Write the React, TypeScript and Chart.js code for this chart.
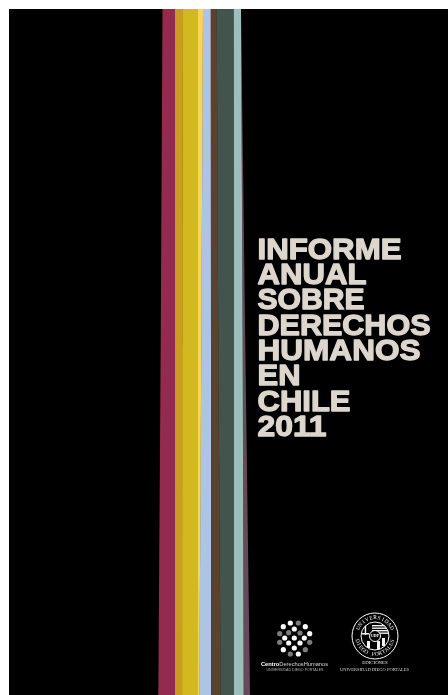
import React, { useEffect, useRef } from "react";
import { Chart, registerables } from "chart.js";

Chart.register(...registerables);

const levels = [9, 345, 695];
const edgesAtTop = [162.5, 175, 183, 198, 203, 210.7, 216.7, 233.7, 241, 241];
const edgesAtMiddle = [160.7, 175, 182.3, 198, 201.3, 211, 218.3, 234, 242.7, 245.3];
const edgesAtBottom = [158.3, 175, 182, 198, 199.3, 211.3, 220.7, 234, 243.7, 250];
const bandColors = ["#932c4c", "#cc9c20", "#d2b91f", "#f8d55a", "#adc5e3", "#5c412c", "#43534d", "#9dbfba", "#66495a"];

const coverLeft = 9;
const coverRight = 448;
const titleLines = ["INFORME", "ANUAL", "SOBRE", "DERECHOS", "HUMANOS", "EN", "CHILE", "2011"];
const titleBaselines = [258.5, 284, 309, 334.5, 359.5, 385, 410.5, 436];
const titleWidths = [144, 109, 107, 173, 163, 43, 93, 69];
const titleX = 257.5;

const whiteDotsX = [290.3, 283.3, 294.3, 309.7, 284.7, 294.3, 304.3, 288.7, 300, 294.3, 283.3, 298.3, 305.3];
const whiteDotsY = [623, 626.7, 629, 633.7, 638, 638, 638, 643, 643, 648, 649.7, 654, 626.7];
const greyDotsX = [298.3, 279.7, 288.7, 300, 279.7, 309.7, 305.3, 290.3];
const greyDotsY = [623, 633.7, 632.7, 633, 642.3, 642.3, 649.7, 654];

const sealCentre = { x: 375, y: 636 };
const sealRingRadii = [23, 14, 5.5];
const sealTop = "UNIVERSIDAD";
const sealBottom = "DIEGO PORTALES";
const stripeRows = [625, 627.5, 630, 632.5];

const captions = [
  { text: "UNIVERSIDAD DIEGO PORTALES", x: 295, y: 670.5, font: "3.6px 'Liberation Sans'", color: "#b5b5b5" },
  { text: "EDICIONES", x: 375, y: 664, font: "4.8px 'Liberation Serif'", color: "#e8e8e8" },
  { text: "UNIVERSIDAD DIEGO PORTALES", x: 374.5, y: 671, font: "4.5px 'Liberation Serif'", color: "#d8d8d8" },
];

const coverArt = {
  id: "coverArt",
  afterDatasetsDraw(chart: any) {
    const { ctx, scales } = chart;
    const X = (v: number) => scales.x.getPixelForValue(v);
    const Y = (v: number) => scales.y.getPixelForValue(v);
    ctx.save();

    ctx.font = "bold 29.5px 'Liberation Sans'";
    ctx.fillStyle = "#dcd6cd";
    ctx.strokeStyle = "#dcd6cd";
    ctx.lineWidth = 1.3;
    ctx.textAlign = "left";
    ctx.textBaseline = "alphabetic";
    ctx.lineJoin = "round";
    titleLines.forEach((line, i) => {
      const factor = titleWidths[i] / ctx.measureText(line).width;
      ctx.save();
      ctx.translate(X(titleX), Y(titleBaselines[i]));
      ctx.scale(factor, 1);
      ctx.fillText(line, 0, 0);
      ctx.strokeText(line, 0, 0);
      ctx.restore();
    });

    const cx = X(sealCentre.x);
    const cy = Y(sealCentre.y);

    ctx.save();
    ctx.beginPath();
    ctx.arc(cx, cy, 14, 0, Math.PI * 2);
    ctx.clip();
    ctx.fillStyle = "#f2f2f2";
    stripeRows.forEach((row) => ctx.fillRect(cx - 3, Y(row), 17, 1.4));
    ctx.fillRect(cx - 13, cy - 3, 7, 1.5);
    ctx.fillRect(cx - 10.3, cy - 10, 1.5, 9);
    ctx.fillRect(cx + 2, cy + 5, 3, 9);
    ctx.fillRect(cx - 8, cy + 5, 3, 7);
    ctx.fillRect(cx + 7, cy + 2, 3, 8);
    ctx.restore();

    ctx.fillStyle = "#000";
    ctx.beginPath();
    ctx.arc(cx, cy, sealRingRadii[2], 0, Math.PI * 2);
    ctx.fill();
    ctx.strokeStyle = "#fff";
    ctx.lineWidth = 1;
    sealRingRadii.forEach((r) => {
      ctx.beginPath();
      ctx.arc(cx, cy, r, 0, Math.PI * 2);
      ctx.stroke();
    });

    ctx.fillStyle = "#fff";
    ctx.textAlign = "center";
    ctx.textBaseline = "middle";
    ctx.font = "bold 4px 'Liberation Serif'";
    ctx.fillText("UDP", cx, cy);

    ctx.font = "5.4px 'Liberation Serif'";
    const step = 0.225;
    [...sealTop].forEach((ch, i) => {
      const a = (i - (sealTop.length - 1) / 2) * step;
      ctx.save();
      ctx.translate(cx + 18.3 * Math.sin(a), cy - 18.3 * Math.cos(a));
      ctx.rotate(a);
      ctx.fillText(ch, 0, 0);
      ctx.restore();
    });
    [...sealBottom].forEach((ch, i) => {
      const a = (i - (sealBottom.length - 1) / 2) * 0.2;
      ctx.save();
      ctx.translate(cx + 18.3 * Math.sin(a), cy + 18.3 * Math.cos(a));
      ctx.rotate(-a);
      ctx.fillText(ch, 0, 0);
      ctx.restore();
    });

    ctx.textBaseline = "alphabetic";
    ctx.textAlign = "left";
    ctx.fillStyle = "#fff";
    ctx.font = "bold 5.7px 'Liberation Sans'";
    const strong = "Centro";
    const weak = "DerechosHumanos";
    const w = ctx.measureText(strong).width;
    ctx.fillText(strong, X(261), Y(665.5));
    ctx.font = "5.7px 'Liberation Sans'";
    ctx.fillStyle = "#d8d8d8";
    ctx.fillText(weak, X(261) + w, Y(665.5));

    ctx.textAlign = "center";
    captions.forEach((c) => {
      ctx.font = c.font;
      ctx.fillStyle = c.color;
      ctx.fillText(c.text, X(c.x), Y(c.y));
    });
    ctx.restore();
  },
};

function edgeData(i: number) {
  return levels.map((y, k) => ({
    x: [edgesAtTop, edgesAtMiddle, edgesAtBottom][k][i],
    y,
  }));
}

export default function App() {
  const ref = useRef<HTMLCanvasElement>(null);
  useEffect(() => {
    const plain = { borderWidth: 0, pointRadius: 0, tension: 0 };
    const bands = edgesAtTop.map((_, i) => ({
      ...plain,
      label: i < bandColors.length ? `band ${i + 1}` : "band end",
      data: edgeData(i),
      backgroundColor: bandColors[i] ?? "transparent",
      borderColor: bandColors[i] ?? "transparent",
      borderWidth: i > 0 && i < bandColors.length - 1 ? 0.6 : 0,
      fill: i < bandColors.length ? { target: "+1" } : false,
    }));
    const chart = new Chart(ref.current!, {
      type: "line",
      data: {
        datasets: [
          {
            type: "scatter",
            label: "white dots",
            data: whiteDotsX.map((x, i) => ({ x, y: whiteDotsY[i] })),
            pointRadius: 2.6,
            borderWidth: 0,
            backgroundColor: "#ffffff",
          } as any,
          {
            type: "scatter",
            label: "grey dots",
            data: greyDotsX.map((x, i) => ({ x, y: greyDotsY[i] })),
            pointRadius: 2.6,
            borderWidth: 0,
            backgroundColor: "#7c7c7c",
          } as any,
          ...bands,
          {
            ...plain,
            label: "cover left",
            data: levels.map((y) => ({ x: coverLeft, y })),
            backgroundColor: "#000000",
            fill: { target: "+1" },
          },
          {
            ...plain,
            label: "cover right",
            data: levels.map((y) => ({ x: coverRight, y })),
            fill: false,
          },
        ],
      },
      options: {
        indexAxis: "y",
        animation: false,
        responsive: false,
        devicePixelRatio: 1,
        layout: { padding: 0, autoPadding: false },
        plugins: { legend: { display: false }, title: { display: false }, tooltip: { enabled: false } },
        scales: {
          x: { type: "linear", display: false, min: 0, max: 448 },
          y: { type: "linear", display: false, min: 0, max: 695, reverse: true },
        },
      } as any,
      plugins: [coverArt],
    });
    return () => chart.destroy();
  }, []);
  return (
    <canvas
      ref={ref}
      width={448}
      height={695}
      style={{ position: "absolute", left: 0, top: 0, width: 448, height: 695, display: "block" }}
    />
  );
}
